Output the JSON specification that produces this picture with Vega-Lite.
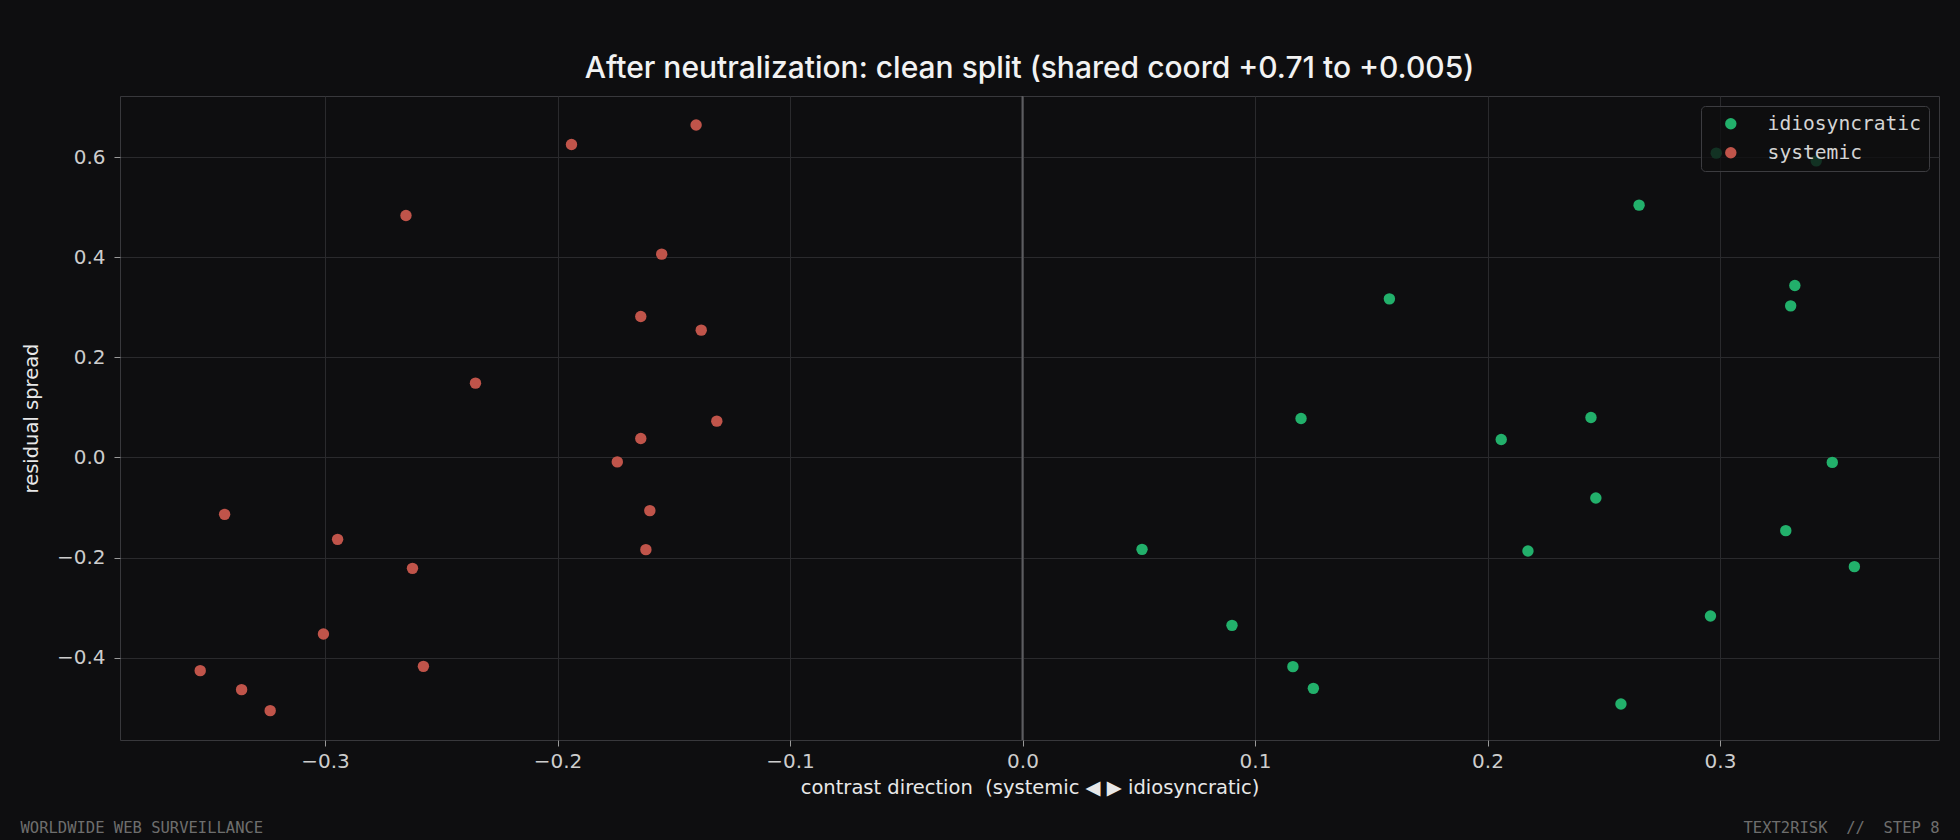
{
  "$schema": "https://vega.github.io/schema/vega-lite/v6.json",
  "width": 1819,
  "height": 644,
  "autosize": {"type": "none"},
  "padding": {"left": 120, "top": 96, "right": 21, "bottom": 100},
  "background": "#0e0e10",
  "title": {
    "text": "After neutralization: clean split (shared coord +0.71 to +0.005)",
    "font": "Inter",
    "fontSize": 30,
    "fontWeight": 500,
    "color": "#f2f2f2",
    "anchor": "middle",
    "frame": "group",
    "offset": 11
  },
  "config": {
    "view": {"stroke": "#38383c", "strokeWidth": 1},
    "axis": {
      "labelFont": "DejaVu Sans",
      "titleFont": "DejaVu Sans",
      "titleFontWeight": "normal",
      "domain": false
    },
    "legend": {
      "orient": "top-right",
      "offset": 10,
      "fillColor": "rgba(14,14,16,0.78)",
      "strokeColor": "#3c3c40",
      "cornerRadius": 4,
      "padding": 8,
      "labelFont": "DejaVu Sans Mono",
      "labelFontSize": 19.6,
      "labelColor": "#d4d4d4",
      "symbolType": "circle",
      "symbolSize": 130,
      "symbolOffset": 12,
      "labelOffset": 27,
      "rowPadding": 8,
      "symbolStrokeWidth": 0
    }
  },
  "resolve": {"axis": {"x": "independent", "y": "independent"}},
  "layer": [
    {
      "data": {
        "values": [
          {"x": -0.1404, "y": 0.665, "group": "systemic"},
          {"x": -0.194, "y": 0.626, "group": "systemic"},
          {"x": -0.2652, "y": 0.484, "group": "systemic"},
          {"x": -0.1552, "y": 0.4067, "group": "systemic"},
          {"x": -0.1642, "y": 0.282, "group": "systemic"},
          {"x": -0.1382, "y": 0.2547, "group": "systemic"},
          {"x": -0.2353, "y": 0.1487, "group": "systemic"},
          {"x": -0.1315, "y": 0.0727, "group": "systemic"},
          {"x": -0.1642, "y": 0.038, "group": "systemic"},
          {"x": -0.1743, "y": -0.0088, "group": "systemic"},
          {"x": -0.3432, "y": -0.1137, "group": "systemic"},
          {"x": -0.2946, "y": -0.1637, "group": "systemic"},
          {"x": -0.1603, "y": -0.1063, "group": "systemic"},
          {"x": -0.162, "y": -0.1843, "group": "systemic"},
          {"x": -0.2624, "y": -0.2217, "group": "systemic"},
          {"x": -0.3007, "y": -0.353, "group": "systemic"},
          {"x": -0.2577, "y": -0.4177, "group": "systemic"},
          {"x": -0.3537, "y": -0.4263, "group": "systemic"},
          {"x": -0.3359, "y": -0.4643, "group": "systemic"},
          {"x": -0.3236, "y": -0.5063, "group": "systemic"},
          {"x": 0.2652, "y": 0.5047, "group": "idiosyncratic"},
          {"x": 0.1578, "y": 0.3173, "group": "idiosyncratic"},
          {"x": 0.3322, "y": 0.344, "group": "idiosyncratic"},
          {"x": 0.3304, "y": 0.3033, "group": "idiosyncratic"},
          {"x": 0.1198, "y": 0.078, "group": "idiosyncratic"},
          {"x": 0.2059, "y": 0.036, "group": "idiosyncratic"},
          {"x": 0.2445, "y": 0.08, "group": "idiosyncratic"},
          {"x": 0.3483, "y": -0.0098, "group": "idiosyncratic"},
          {"x": 0.2984, "y": 0.6087, "group": "idiosyncratic"},
          {"x": 0.3414, "y": 0.5933, "group": "idiosyncratic"},
          {"x": 0.2466, "y": -0.081, "group": "idiosyncratic"},
          {"x": 0.3283, "y": -0.1463, "group": "idiosyncratic"},
          {"x": 0.0514, "y": -0.1837, "group": "idiosyncratic"},
          {"x": 0.2174, "y": -0.187, "group": "idiosyncratic"},
          {"x": 0.3578, "y": -0.2183, "group": "idiosyncratic"},
          {"x": 0.2959, "y": -0.317, "group": "idiosyncratic"},
          {"x": 0.0901, "y": -0.3357, "group": "idiosyncratic"},
          {"x": 0.1163, "y": -0.4183, "group": "idiosyncratic"},
          {"x": 0.1251, "y": -0.4617, "group": "idiosyncratic"},
          {"x": 0.2574, "y": -0.493, "group": "idiosyncratic"}
        ]
      },
      "mark": {"type": "point", "filled": true, "size": 130, "opacity": 1, "strokeWidth": 0},
      "encoding": {
        "x": {
          "field": "x",
          "type": "quantitative",
          "scale": {"domain": [-0.3882, 0.3942], "nice": false, "zero": false},
          "axis": {
            "orient": "bottom",
            "title": "contrast direction\u00a0\u00a0(systemic ◀ ▶ idiosyncratic)",
            "titleFontSize": 19.5,
            "titleColor": "#e8e8e8",
            "titlePadding": 7,
            "values": [-0.3, -0.2, -0.1, 0, 0.1, 0.2, 0.3],
            "format": ".1f",
            "labelFontSize": 20,
            "labelColor": "#cdcdcd",
            "labelPadding": 5,
            "tickColor": "#9a9a9a",
            "tickSize": 6,
            "grid": true,
            "gridColor": "#2a2a2d"
          }
        },
        "y": {
          "field": "y",
          "type": "quantitative",
          "scale": {"domain": [-0.565, 0.723], "nice": false, "zero": false},
          "axis": {
            "orient": "left",
            "title": "residual spread",
            "titleFontSize": 19.5,
            "titleColor": "#e8e8e8",
            "titlePadding": 15,
            "values": [-0.4, -0.2, 0, 0.2, 0.4, 0.6],
            "format": ".1f",
            "labelFontSize": 20,
            "labelColor": "#cdcdcd",
            "labelPadding": 9,
            "tickColor": "#9a9a9a",
            "tickSize": 6,
            "grid": true,
            "gridColor": "#2a2a2d"
          }
        },
        "color": {
          "field": "group",
          "type": "nominal",
          "scale": {"domain": ["idiosyncratic", "systemic"], "range": ["#22b06b", "#c0544a"]},
          "legend": {"title": null}
        }
      }
    },
    {
      "data": {"values": [{"ref": "zero"}]},
      "mark": {"type": "rule", "color": "#5c5c60", "strokeWidth": 2},
      "encoding": {
        "x": {
          "datum": 0,
          "type": "quantitative",
          "axis": {
            "orient": "top",
            "title": "WORLDWIDE WEB SURVEILLANCE",
            "titleFont": "DejaVu Sans Mono",
            "titleFontSize": 15.5,
            "titleColor": "#6e6e6e",
            "titleX": -100,
            "titleY": 731,
            "titleAlign": "left",
            "titleAnchor": null,
            "titleBaseline": "middle",
            "labels": false,
            "ticks": false,
            "grid": false,
            "domain": false
          }
        },
        "y": {
          "datum": -0.565,
          "type": "quantitative",
          "axis": {
            "orient": "right",
            "title": "TEXT2RISK\u00a0\u00a0//\u00a0\u00a0STEP 8",
            "titleFont": "DejaVu Sans Mono",
            "titleFontSize": 15.5,
            "titleColor": "#6e6e6e",
            "titleAngle": 0,
            "titleX": 0,
            "titleY": 731,
            "titleAlign": "right",
            "titleAnchor": null,
            "titleBaseline": "middle",
            "labels": false,
            "ticks": false,
            "grid": false,
            "domain": false
          }
        },
        "y2": {"datum": 0.723}
      }
    }
  ]
}
